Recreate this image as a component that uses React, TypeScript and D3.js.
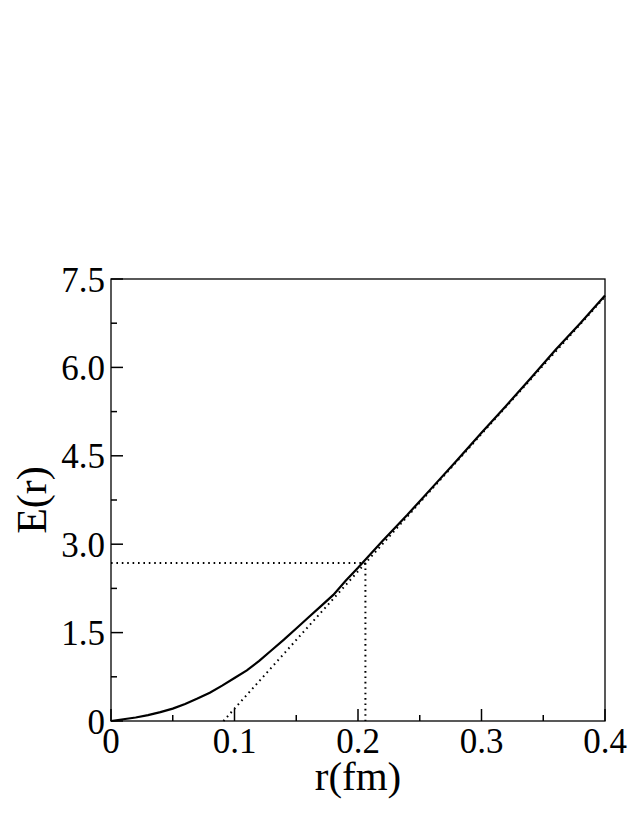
import React from "react";
import * as d3 from "d3";

const rValues = [0, 0.01, 0.02, 0.03, 0.04, 0.05, 0.06, 0.07, 0.08, 0.09, 0.1, 0.11, 0.12, 0.13, 0.14, 0.15, 0.16, 0.17, 0.18, 0.19, 0.2, 0.21, 0.22, 0.23, 0.24, 0.25, 0.26, 0.28, 0.3, 0.32, 0.34, 0.36, 0.38, 0.4];
const eValues = [0, 0.03, 0.06, 0.1, 0.15, 0.21, 0.29, 0.38, 0.48, 0.6, 0.73, 0.86, 1.02, 1.2, 1.38, 1.57, 1.76, 1.95, 2.14, 2.38, 2.6, 2.83, 3.06, 3.28, 3.5, 3.73, 3.96, 4.42, 4.89, 5.35, 5.82, 6.3, 6.75, 7.22];

const tangentR = [0.091, 0.4];
const tangentE = [0, 7.2];

const markR = 0.206;
const markE = 2.68;

const xMajor = [0, 0.1, 0.2, 0.3, 0.4];
const xMajorLabels = ["0", "0.1", "0.2", "0.3", "0.4"];
const xMinor = [0.05, 0.15, 0.25, 0.35];
const yMajor = [0, 1.5, 3.0, 4.5, 6.0, 7.5];
const yMajorLabels = ["0", "1.5", "3.0", "4.5", "6.0", "7.5"];
const yMinor = [0.75, 2.25, 3.75, 5.25, 6.75];

export default function App() {
  const W = 632, H = 817;
  const left = 111, right = 605, top = 279, bottom = 721;
  const x = d3.scaleLinear().domain([0, 0.4]).range([left, right]);
  const y = d3.scaleLinear().domain([0, 7.5]).range([bottom, top]);
  const line = d3.line<number>().x((d, i) => x(rValues[i])).y((d, i) => y(eValues[i]));
  const curve = line(eValues) || "";
  const font = "'Liberation Serif', 'Times New Roman', serif";
  return (
    <svg width={W} height={H} style={{ position: "absolute", left: 0, top: 0, background: "#fff" }}>
      <rect x={0} y={0} width={W} height={H} fill="#fff" />
      <rect x={left} y={top} width={right - left} height={bottom - top} fill="none" stroke="#000" strokeWidth={1.3} />
      {xMajor.map((v) => (
        <line key={"xm" + v} x1={x(v)} x2={x(v)} y1={bottom} y2={bottom - 12} stroke="#000" strokeWidth={1.5} />
      ))}
      {xMinor.map((v) => (
        <line key={"xn" + v} x1={x(v)} x2={x(v)} y1={bottom} y2={bottom - 6} stroke="#000" strokeWidth={1.5} />
      ))}
      {yMajor.map((v) => (
        <line key={"ym" + v} x1={left} x2={left + 12} y1={y(v)} y2={y(v)} stroke="#000" strokeWidth={1.5} />
      ))}
      {yMinor.map((v) => (
        <line key={"yn" + v} x1={left} x2={left + 6} y1={y(v)} y2={y(v)} stroke="#000" strokeWidth={1.5} />
      ))}
      {xMajor.map((v, i) => (
        <text key={"xl" + v} x={x(v)} y={bottom + 32} textAnchor="middle" fontFamily={font} fontSize={35} fill="#000">
          {xMajorLabels[i]}
        </text>
      ))}
      {yMajor.map((v, i) => (
        <text key={"yl" + v} x={left - 6} y={y(v) + 12.5} textAnchor="end" fontFamily={font} fontSize={35} fill="#000">
          {yMajorLabels[i]}
        </text>
      ))}
      <line x1={x(0)} x2={x(markR)} y1={y(markE)} y2={y(markE)} stroke="#000" strokeWidth={2} strokeDasharray="1.6 3.8" />
      <line x1={x(markR)} x2={x(markR)} y1={y(markE)} y2={y(0)} stroke="#000" strokeWidth={2} strokeDasharray="1.6 3.8" />
      <line x1={x(tangentR[0])} y1={y(tangentE[0])} x2={x(tangentR[1])} y2={y(tangentE[1])} stroke="#000" strokeWidth={2} strokeDasharray="1.6 3.8" />
      <path d={curve} fill="none" stroke="#000" strokeWidth={2.2} />
      <text x={(left + right) / 2} y={790} textAnchor="middle" fontFamily={font} fontSize={41} fill="#000">r(fm)</text>
      <text transform={`translate(46, ${(top + bottom) / 2}) rotate(-90)`} textAnchor="middle" fontFamily={font} fontSize={42} fill="#000">E(r)</text>
    </svg>
  );
}
